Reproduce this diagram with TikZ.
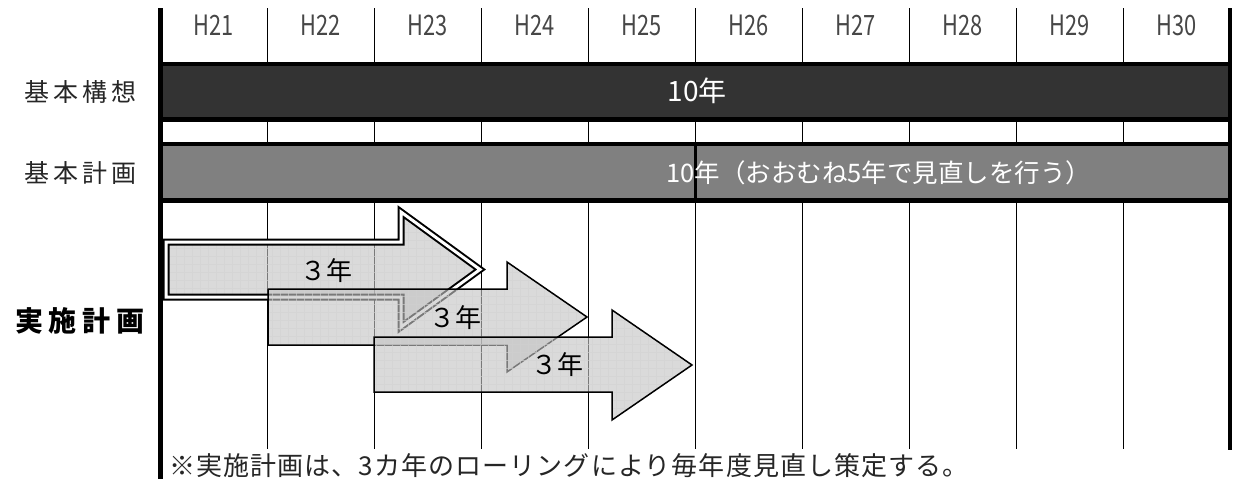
\documentclass[tikz,border=0pt]{standalone}
\usepackage{fontspec}
\usepackage{graphicx}
\setmainfont{Noto Sans CJK JP}
\newfontfamily\notefont[LetterSpace=4.2]{Noto Sans CJK JP}
\definecolor{bardark}{RGB}{51,51,51}
\definecolor{arrowgray}{RGB}{196,196,196}
\begin{document}
\begin{tikzpicture}[x=1pt,y=-1pt,
  colline/.style={line width=1.3pt, black},
  thickline/.style={line width=4.8pt, black},
  barbox/.style={line width=4.5pt, draw=black},
  hlab/.style={font=\fontsize{28}{28}\selectfont, text=black!72, inner sep=0pt},
  rowlab/.style={font=\fontsize{25}{25}\selectfont, text=black!85, inner sep=0pt},
  barlab/.style={text=white, inner sep=0pt},
  arrowbox/.style={fill=arrowgray, fill opacity=0.62, draw=black, line join=miter,
    path picture={\draw[gray!35, line width=0.5pt, draw opacity=0.6]
      (path picture bounding box.south west) grid[step=8pt] (path picture bounding box.north east);}},
  arrowlab/.style={font=\fontsize{26}{26}\selectfont, text=black, inner sep=0pt}]
\useasboundingbox (0,0) rectangle (1234,479);
\fill[white] (0,0) rectangle (1234,479);
% column lines
\foreach \i in {1,...,9}
  \draw[colline] ({160.5+107*\i},8) -- ({160.5+107*\i},449);
\draw[thickline] (160.5,8) -- (160.5,479);
\draw[line width=4pt] (1230,8) -- (1230,450);
% header labels
\foreach \i [evaluate=\i as \yy using int(20+\i)] in {1,...,10}
  \node[hlab] (h\i) at ({107*\i+107},25) {\scalebox{0.78}[1]{H\yy}};
% bars
\draw[barbox, fill=bardark] (160.5,64) rectangle (1230,119.5);
\node[barlab, font=\fontsize{28}{28}\selectfont] (kosoT) at (697,91) {10年};
\draw[barbox, fill=black!50] (160.5,144) rectangle (1230,200.5);
\draw[line width=3pt] (695.5,144) -- (695.5,200.5);
\node[barlab, font=\fontsize{25.5}{25.5}\selectfont] (keikakuT) at (879,172.5) {10年（おおむね5年で見直しを行う）};
% row labels
\node[rowlab] (koso) at (80.5,92) {基\hspace{4pt}本\hspace{4pt}構\hspace{4pt}想};
\node[rowlab] (keikaku) at (80.5,173) {基\hspace{4pt}本\hspace{4pt}計\hspace{4pt}画};
\node[inner sep=0pt, font=\fontsize{28}{28}\selectfont\bfseries] (jisshi) at (80,321) {実\hspace{6pt}施\hspace{6pt}計\hspace{6pt}画};
% arrows
\path[arrowbox, line width=2pt, double=white, double distance=3pt]
  (166,242) -- (401,242) -- (401,212) -- (480,269.5) -- (401,327) -- (401,297) -- (166,297) -- cycle;
\path[arrowbox, line width=1.5pt]
  (268,289) -- (507,289) -- (507,262) -- (587,317) -- (507,372) -- (507,345) -- (268,345) -- cycle;
\path[arrowbox, line width=1.5pt]
  (374,337) -- (612,337) -- (612,310) -- (692,365) -- (612,420) -- (612,392) -- (374,392) -- cycle;
\node[arrowlab] (a1) at (326,271) {３年};
\node[arrowlab] (a2) at (455,318) {３年};
\node[arrowlab] (a3) at (557,365) {３年};
% note
\node[anchor=west, inner sep=0pt, font=\notefont\fontsize{26}{26}\selectfont, text=black!85] (note) at (169,466) {※実施計画は、3カ年のローリングにより毎年度見直し策定する。};
\end{tikzpicture}
\end{document}
